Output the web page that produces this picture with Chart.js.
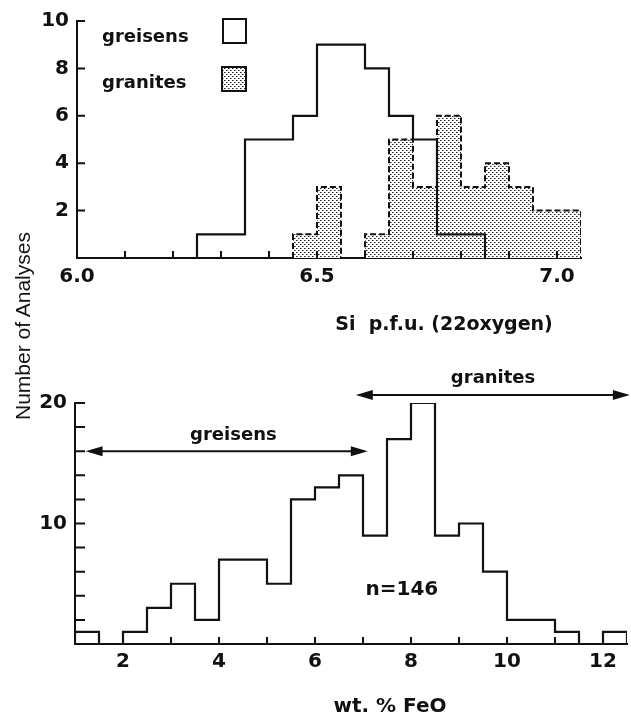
<!DOCTYPE html>
<html>
<head>
<meta charset="utf-8">
<script src="https://cdn.jsdelivr.net/npm/chart.js@4.4.1/dist/chart.umd.min.js"></script>
<style>
    body { margin: 0; background: #fff; }
    #wrap { position: relative; width: 631px; height: 717px; overflow: hidden; }
    #topBox { position: absolute; left: 0; top: 0; width: 631px; height: 345px; }
    #botBox { position: absolute; left: 0; top: 345px; width: 631px; height: 372px; }
    #yTitle {
        position: absolute; left: 23px; top: 326px;
        transform: translate(-50%, -50%) rotate(-90deg);
        font: 21px "Liberation Sans"; color: #111; white-space: nowrap;
    }
</style>
</head>
<body>
<div id="wrap">
    <div id="topBox"><canvas id="siChart"></canvas></div>
    <div id="botBox"><canvas id="feoChart"></canvas></div>
    <div id="yTitle">Number of Analyses</div>
</div>
<script>
// Si p.f.u. histogram (bin edges, 0.05 wide) and counts
const greisenSiBins = [6.25, 6.30, 6.35, 6.40, 6.45, 6.50, 6.55, 6.60, 6.65, 6.70, 6.75, 6.80, 6.85];
const greisenSiCounts = [1, 1, 5, 5, 6, 9, 9, 8, 6, 5, 1, 1];
const graniteSiBins = [6.45, 6.50, 6.55, 6.60, 6.65, 6.70, 6.75, 6.80, 6.85, 6.90, 6.95, 7.00, 7.05];
const graniteSiCounts = [1, 3, 0, 1, 5, 3, 6, 3, 4, 3, 2, 2];
const siTickLabels = [6.0, 6.5, 7.0];
const siCountLabels = [2, 4, 6, 8, 10];

// wt. % FeO histogram (bin edges, 0.5 wide) and counts
const feoBins = [1.0, 1.5, 2.0, 2.5, 3.0, 3.5, 4.0, 4.5, 5.0, 5.5, 6.0, 6.5, 7.0, 7.5,
    8.0, 8.5, 9.0, 9.5, 10.0, 10.5, 11.0, 11.5, 12.0, 12.5];
const feoCounts = [1, 0, 1, 3, 5, 2, 7, 7, 5, 12, 13, 14, 9, 17, 20, 9, 10, 6, 2, 2, 1, 0, 1];
const feoTickLabels = [2, 4, 6, 8, 10, 12];
const feoCountLabels = [10, 20];

// ranges marked with arrows on the FeO plot
const greisenFeoRange = [1.22, 7.1];
const greisenFeoLevel = 16;
const graniteFeoRange = [6.85, 12.56];
const graniteFeoLevel = 20.66;

const INK = "#111";
const FONT = "'DejaVu Sans'";

const stepData = (edges, counts) => {
    const pts = [{ x: edges[0], y: 0 }];
    counts.forEach((c, i) => pts.push({ x: edges[i], y: c }));
    pts.push({ x: edges[edges.length - 1], y: 0 });
    return pts;
};

const near = (list, v) => list.some((l) => Math.abs(l - v) < 1e-6);

// stipple fill for granites: staggered dots
const tile = document.createElement("canvas");
tile.width = 4;
tile.height = 4;
const tctx = tile.getContext("2d");
tctx.fillStyle = "#ffffff";
tctx.fillRect(0, 0, 4, 4);
tctx.fillStyle = "#222222";
tctx.fillRect(0, 0, 1, 1);
tctx.fillRect(2, 2, 1, 1);
tctx.fillStyle = "#8a8a8a";
tctx.fillRect(1, 0, 1, 1);
tctx.fillRect(3, 2, 1, 1);
const stipple = tctx.createPattern(tile, "repeat");

// tick marks pointing into the plot
const inwardTicks = {
    id: "inwardTicks",
    afterDatasetsDraw(chart, args, opts) {
        const ctx = chart.ctx;
        const { x, y } = chart.scales;
        ctx.save();
        ctx.strokeStyle = INK;
        ctx.lineWidth = 2;
        ctx.beginPath();
        x.ticks.forEach((t) => {
            if (t.value <= x.min + 1e-6) return;
            const px = x.getPixelForValue(t.value);
            ctx.moveTo(px, y.bottom);
            ctx.lineTo(px, y.bottom - opts.xLen);
        });
        y.ticks.forEach((t) => {
            if (t.value <= y.min + 1e-6) return;
            const py = y.getPixelForValue(t.value);
            ctx.moveTo(x.left, py);
            ctx.lineTo(x.left + opts.yLen, py);
        });
        ctx.stroke();
        ctx.restore();
    },
};

const drawArrow = (ctx, x1, x2, py) => {
    ctx.beginPath();
    ctx.moveTo(x1 + 10, py);
    ctx.lineTo(x2 - 10, py);
    ctx.stroke();
    [[x1, 1], [x2, -1]].forEach(([px, dir]) => {
        ctx.beginPath();
        ctx.moveTo(px, py);
        ctx.lineTo(px + dir * 17, py - 5);
        ctx.lineTo(px + dir * 17, py + 5);
        ctx.closePath();
        ctx.fill();
    });
};

// legend, titles and notes
const notes = {
    id: "notes",
    afterDraw(chart, args, opts) {
        const ctx = chart.ctx;
        const { x, y } = chart.scales;
        ctx.save();
        ctx.fillStyle = INK;
        ctx.strokeStyle = INK;
        ctx.textBaseline = "middle";
        (opts.texts || []).forEach((t) => {
            ctx.font = `bold ${t.size || 18}px ${FONT}`;
            ctx.textAlign = t.align || "center";
            const px = t.vx !== undefined ? x.getPixelForValue(t.vx) : t.px;
            const py = t.vy !== undefined ? y.getPixelForValue(t.vy) : t.py;
            ctx.fillText(t.text, px, py);
        });
        (opts.boxes || []).forEach((b) => {
            ctx.fillStyle = b.fill;
            ctx.fillRect(b.x, b.y, b.w, b.h);
            ctx.lineWidth = 2;
            ctx.strokeRect(b.x, b.y, b.w, b.h);
        });
        if (opts.arrows) {
            ctx.fillStyle = INK;
            ctx.lineWidth = 2;
            opts.arrows.forEach((a) => {
                drawArrow(ctx, x.getPixelForValue(a.range[0]), x.getPixelForValue(a.range[1]),
                    y.getPixelForValue(a.level));
            });
        }
        ctx.restore();
    },
};

const tickFont = { family: FONT, size: 20, weight: "bold" };

new Chart(document.getElementById("siChart").getContext("2d"), {
    type: "line",
    data: {
        datasets: [
            {
                label: "greisens",
                data: stepData(greisenSiBins, greisenSiCounts),
                stepped: true,
                borderColor: INK,
                borderWidth: 2.2,
                pointRadius: 0,
                fill: false,
            },
            {
                label: "granites",
                data: stepData(graniteSiBins, graniteSiCounts),
                stepped: true,
                borderColor: INK,
                borderWidth: 2,
                borderDash: [6, 3],
                pointRadius: 0,
                backgroundColor: stipple,
                fill: "origin",
            },
        ],
    },
    options: {
        responsive: true,
        maintainAspectRatio: false,
        animation: false,
        layout: { padding: { top: 21, right: 50, left: 0, bottom: 0 } },
        scales: {
            x: {
                type: "linear",
                min: 6.0,
                max: 7.05,
                afterBuildTicks: (s) => {
                    s.ticks = [];
                    for (let i = 0; i <= 10; i++) s.ticks.push({ value: 6 + i / 10 });
                },
                afterFit: (s) => { s.height = 87; },
                ticks: {
                    autoSkip: false,
                    maxRotation: 0,
                    padding: 7,
                    color: INK,
                    font: tickFont,
                    callback: (v) => (near(siTickLabels, v) ? v.toFixed(1) : ""),
                },
                grid: { display: false, drawTicks: false },
                border: { color: INK, width: 2 },
            },
            y: {
                min: 0,
                max: 10,
                afterFit: (s) => { s.width = 77; },
                ticks: {
                    stepSize: 2,
                    autoSkip: false,
                    padding: 8,
                    color: INK,
                    font: tickFont,
                    callback: (v) => (near(siCountLabels, v) ? v : ""),
                },
                grid: { display: false, drawTicks: false },
                border: { color: INK, width: 2 },
            },
        },
        plugins: {
            legend: { display: false },
            tooltip: { enabled: false },
            inwardTicks: { xLen: 7, yLen: 8 },
            notes: {
                texts: [
                    { text: "greisens", px: 102, py: 37, align: "left" },
                    { text: "granites", px: 102, py: 83, align: "left" },
                    { text: "Si  p.f.u. (22oxygen)", px: 444, py: 325, size: 19 },
                ],
                boxes: [
                    { x: 223, y: 19, w: 23, h: 24, fill: "#fff" },
                    { x: 222, y: 67, w: 24, h: 24, fill: stipple },
                ],
            },
        },
    },
    plugins: [inwardTicks, notes],
});

new Chart(document.getElementById("feoChart").getContext("2d"), {
    type: "line",
    data: {
        datasets: [
            {
                label: "FeO",
                data: stepData(feoBins, feoCounts),
                stepped: true,
                borderColor: INK,
                borderWidth: 2.2,
                pointRadius: 0,
                fill: false,
            },
        ],
    },
    options: {
        responsive: true,
        maintainAspectRatio: false,
        animation: false,
        layout: { padding: { top: 58, right: 4, left: 0, bottom: 0 } },
        scales: {
            x: {
                type: "linear",
                min: 1,
                max: 12.5,
                afterBuildTicks: (s) => {
                    s.ticks = [];
                    for (let v = 1; v <= 12; v++) s.ticks.push({ value: v });
                },
                afterFit: (s) => { s.height = 73; },
                ticks: {
                    autoSkip: false,
                    maxRotation: 0,
                    padding: 6,
                    color: INK,
                    font: tickFont,
                    callback: (v) => (near(feoTickLabels, v) ? v : ""),
                },
                grid: { display: false, drawTicks: false },
                border: { color: INK, width: 2 },
            },
            y: {
                min: 0,
                max: 20,
                afterFit: (s) => { s.width = 75; },
                ticks: {
                    stepSize: 2,
                    autoSkip: false,
                    padding: 8,
                    color: INK,
                    font: tickFont,
                    callback: (v) => (near(feoCountLabels, v) ? v : ""),
                },
                grid: { display: false, drawTicks: false },
                border: { color: INK, width: 2 },
            },
        },
        plugins: {
            legend: { display: false },
            tooltip: { enabled: false },
            inwardTicks: { xLen: 7, yLen: 10 },
            notes: {
                texts: [
                    { text: "greisens", vx: 4.3, vy: 17.3 },
                    { text: "granites", vx: 9.71, vy: 22.07 },
                    { text: "n=146", vx: 7.81, vy: 4.46, size: 20 },
                    { text: "wt. % FeO", px: 390, py: 362, size: 20 },
                ],
                arrows: [
                    { range: greisenFeoRange, level: greisenFeoLevel },
                    { range: graniteFeoRange, level: graniteFeoLevel },
                ],
            },
        },
    },
    plugins: [inwardTicks, notes],
});
</script>
</body>
</html>
